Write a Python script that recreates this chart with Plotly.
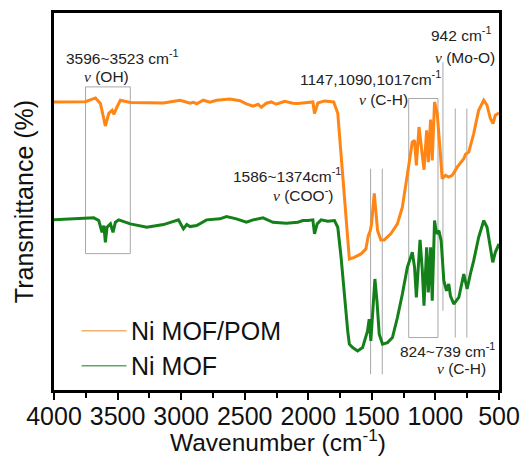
import plotly.graph_objects as go

# FTIR spectra (wavenumber in cm^-1, transmittance in arbitrary offset units)
wn_pom = [4000, 3752, 3674, 3635, 3596, 3569, 3543, 3530, 3504, 3478, 3400, 3139, 3008,
          2930, 2904, 2878, 2826, 2773, 2721, 2617, 2538, 2487, 2434, 2395, 2369, 2330,
          2291, 2252, 2186, 2121, 2082, 2042, 1964, 1951, 1925, 1873, 1800, 1768, 1747,
          1721, 1716, 1690, 1677, 1638, 1586, 1547, 1528, 1512, 1502, 1481, 1455, 1429,
          1403, 1351, 1299, 1260, 1240, 1208, 1182, 1164, 1150, 1129, 1111, 1090, 1069,
          1056, 1038, 1025, 1007, 986, 965, 947, 921, 895, 868, 829, 777, 764, 738, 699,
          660, 620, 594, 568, 547, 529, 500]
t_pom = [298.3, 298.5, 302.3, 296.7, 274.3, 287, 290, 286, 293.3, 300, 297.7, 297.3, 300,
         297, 298, 296.5, 300, 298, 300, 301.3, 299.5, 296.3, 294, 296, 293, 297,
         298.3, 296, 299, 297, 296.7, 297.3, 298.3, 286.7, 297.3, 299.3, 298.3, 287, 253.3,
         210, 200, 160, 141.7, 143.3, 146.7, 151.7, 165, 170, 177, 207, 170, 160.7,
         160.7, 166.7, 176.7, 193.3, 210, 240, 258.3, 260, 235, 273.3, 253.3, 230.7, 270,
         238.3, 280.7, 240, 298.3, 286.7, 253.3, 221.7, 225, 223.3, 225, 233.3, 241.7, 246, 248.3, 266.7,
         290, 300, 295, 281.7, 276.7, 285, 287.3]

wn_mof = [4000, 3687, 3648, 3622, 3608, 3596, 3583, 3556, 3536, 3517, 3491, 3400, 3270,
          3139, 3021, 2982, 2956, 2930, 2878, 2800, 2695, 2643, 2565, 2487, 2434, 2356,
          2278, 2173, 2082, 2042, 2003, 1964, 1951, 1930, 1899, 1847, 1794, 1768, 1742,
          1716, 1690, 1677, 1651, 1612, 1573, 1534, 1521, 1508, 1489, 1476, 1460, 1442,
          1416, 1377, 1338, 1299, 1260, 1221, 1182, 1164, 1150, 1121, 1103, 1090, 1069,
          1056, 1038, 1025, 1007, 991, 973, 955, 934, 913, 895, 882, 856, 816, 777, 751,
          725, 699, 660, 620, 594, 568, 549, 529, 500]
t_mof = [180.7, 182.7, 180, 168.3, 175, 158.3, 173.3, 176.7, 168.3, 178.3, 180.7, 176.7, 173.3,
         176, 180.7, 171.7, 176, 174, 175, 180.7, 181.7, 184, 181.7, 178.3, 180.7, 182.7,
         178.3, 177.3, 178.3, 180, 180, 180.7, 166.7, 176.7, 180.7, 179.3, 180, 173.3, 143.3,
         103.3, 70, 56.7, 53.3, 50, 53.3, 70, 81.7, 60, 103.3, 121.7, 100, 66.7,
         56.7, 58.3, 63.3, 83.3, 106.7, 133.3, 148.3, 133.3, 103.3, 160.7, 130, 95, 153.3,
         108.3, 153.3, 100, 180, 166.7, 170, 160, 120, 110, 116.7, 105, 96.7, 103.3, 126.7, 111.7,
         126.7, 140, 163.3, 180, 173.3, 153.3, 138.3, 148.3, 156.7]

series_names = ["Ni MOF/POM", "Ni MOF"]
series_colors = ["#FF8514", "#14801A"]
legend_colors = ["#F5B06E", "#5FA865"]

x_ticks = [4000, 3500, 3000, 2500, 2000, 1500, 1000, 500]

FONT = "Liberation Sans, Arial, sans-serif"
NU = "<i><span style='font-family:Liberation Serif, Times New Roman, serif'>ν</span></i>"
GRAY = "#A8A8A8"
BIG = 25
SMALL = 15.5

fig = go.Figure()
fig.add_trace(go.Scatter(x=wn_pom, y=t_pom, mode="lines", name=series_names[0],
                         line=dict(color=series_colors[0], width=3), showlegend=False))
fig.add_trace(go.Scatter(x=wn_mof, y=t_mof, mode="lines", name=series_names[1],
                         line=dict(color=series_colors[1], width=3), showlegend=False))

# band markers
shapes = [
    dict(type="rect", x0=3752, x1=3400, y0=147, y1=313.3),   # OH
    dict(type="rect", x0=1210, x1=980, y0=63.3, y1=301.7),   # C-H
    dict(type="line", x0=941, x1=941, y0=90, y1=338),        # Mo-O
    dict(type="line", x0=1510, x1=1510, y0=26.7, y1=231.7),  # COO-
    dict(type="line", x0=1418, x1=1418, y0=26.7, y1=231.7),
    dict(type="line", x0=844, x1=844, y0=63.3, y1=291.7),    # C-H out of plane
    dict(type="line", x0=753, x1=753, y0=63.3, y1=291.7),
]
for s in shapes:
    s.update(xref="x", yref="y", line=dict(color=GRAY, width=1), layer="below")
    fig.add_shape(**s)

notes = [
    ("3596~3523 cm<sup>-1</sup>", 3460, 343, "center"),
    (NU + " (OH)", 3589, 323.5, "center"),
    ("942 cm<sup>-1</sup>", 792, 366, "center"),
    (NU + " (Mo-O)", 768, 342.5, "center"),
    ("1147,1090,1017cm<sup>-1</sup>", 1513, 322.5, "center"),
    (NU + " (C-H)", 1412, 301, "center"),
    ("1586~1374cm<sup>-1</sup>", 2168, 225.5, "center"),
    (NU + " (COO<sup>-</sup>)", 2039, 206.5, "center"),
    ("824~739 cm<sup>-1</sup>", 907, 51, "center"),
    (NU + " (C-H)", 798, 32.5, "center"),
]
for txt, x, y, anc in notes:
    fig.add_annotation(x=x, y=y, xref="x", yref="y", text=txt, showarrow=False,
                       xanchor=anc, yanchor="middle",
                       font=dict(family=FONT, size=SMALL, color="#222222"))

# legend
leg_y = [0.157, 0.064]
for name, col, yy in zip(series_names, legend_colors, leg_y):
    fig.add_shape(type="line", xref="paper", yref="paper", x0=0.062, x1=0.163, y0=yy, y1=yy,
                  line=dict(color=col, width=1.5))
    fig.add_annotation(xref="paper", yref="paper", x=0.168, y=yy, text=name, showarrow=False,
                       xanchor="left", yanchor="middle",
                       font=dict(family=FONT, size=BIG, color="#111111"))

# x-axis title
fig.add_annotation(xref="paper", yref="paper", x=0.503, y=-0.135, text="Wavenumber (cm<sup>-1</sup>)",
                   showarrow=False, xanchor="center", yanchor="middle",
                   font=dict(family=FONT, size=24.5, color="#111111"))

fig.update_layout(
    width=526, height=457,
    margin=dict(l=54, r=27, t=13, b=67),
    paper_bgcolor="white", plot_bgcolor="white",
    font=dict(family=FONT, size=BIG, color="#111111"),
    showlegend=False,
    xaxis=dict(
        range=[4000, 500], tickvals=x_ticks, ticktext=[str(v) for v in x_ticks],
        automargin=False,
        ticks="outside", ticklen=7, tickwidth=2, tickcolor="black",
        ticklabelstandoff=-5,
        minor=dict(dtick=250, ticks="outside", ticklen=5, tickwidth=2, tickcolor="black"),
        showline=True, linewidth=3, linecolor="black", mirror=True,
        showgrid=False, zeroline=False,
        tickfont=dict(family=FONT, size=BIG, color="#111111"),
    ),
    yaxis=dict(
        range=[11, 387], showticklabels=False, ticks="",
        automargin=False,
        showline=True, linewidth=3, linecolor="black", mirror=True,
        showgrid=False, zeroline=False,
        title=dict(text="Transmittance (%)", standoff=11,
                   font=dict(family=FONT, size=BIG, color="#111111")),
    ),
)

fig.write_html("out.html")
